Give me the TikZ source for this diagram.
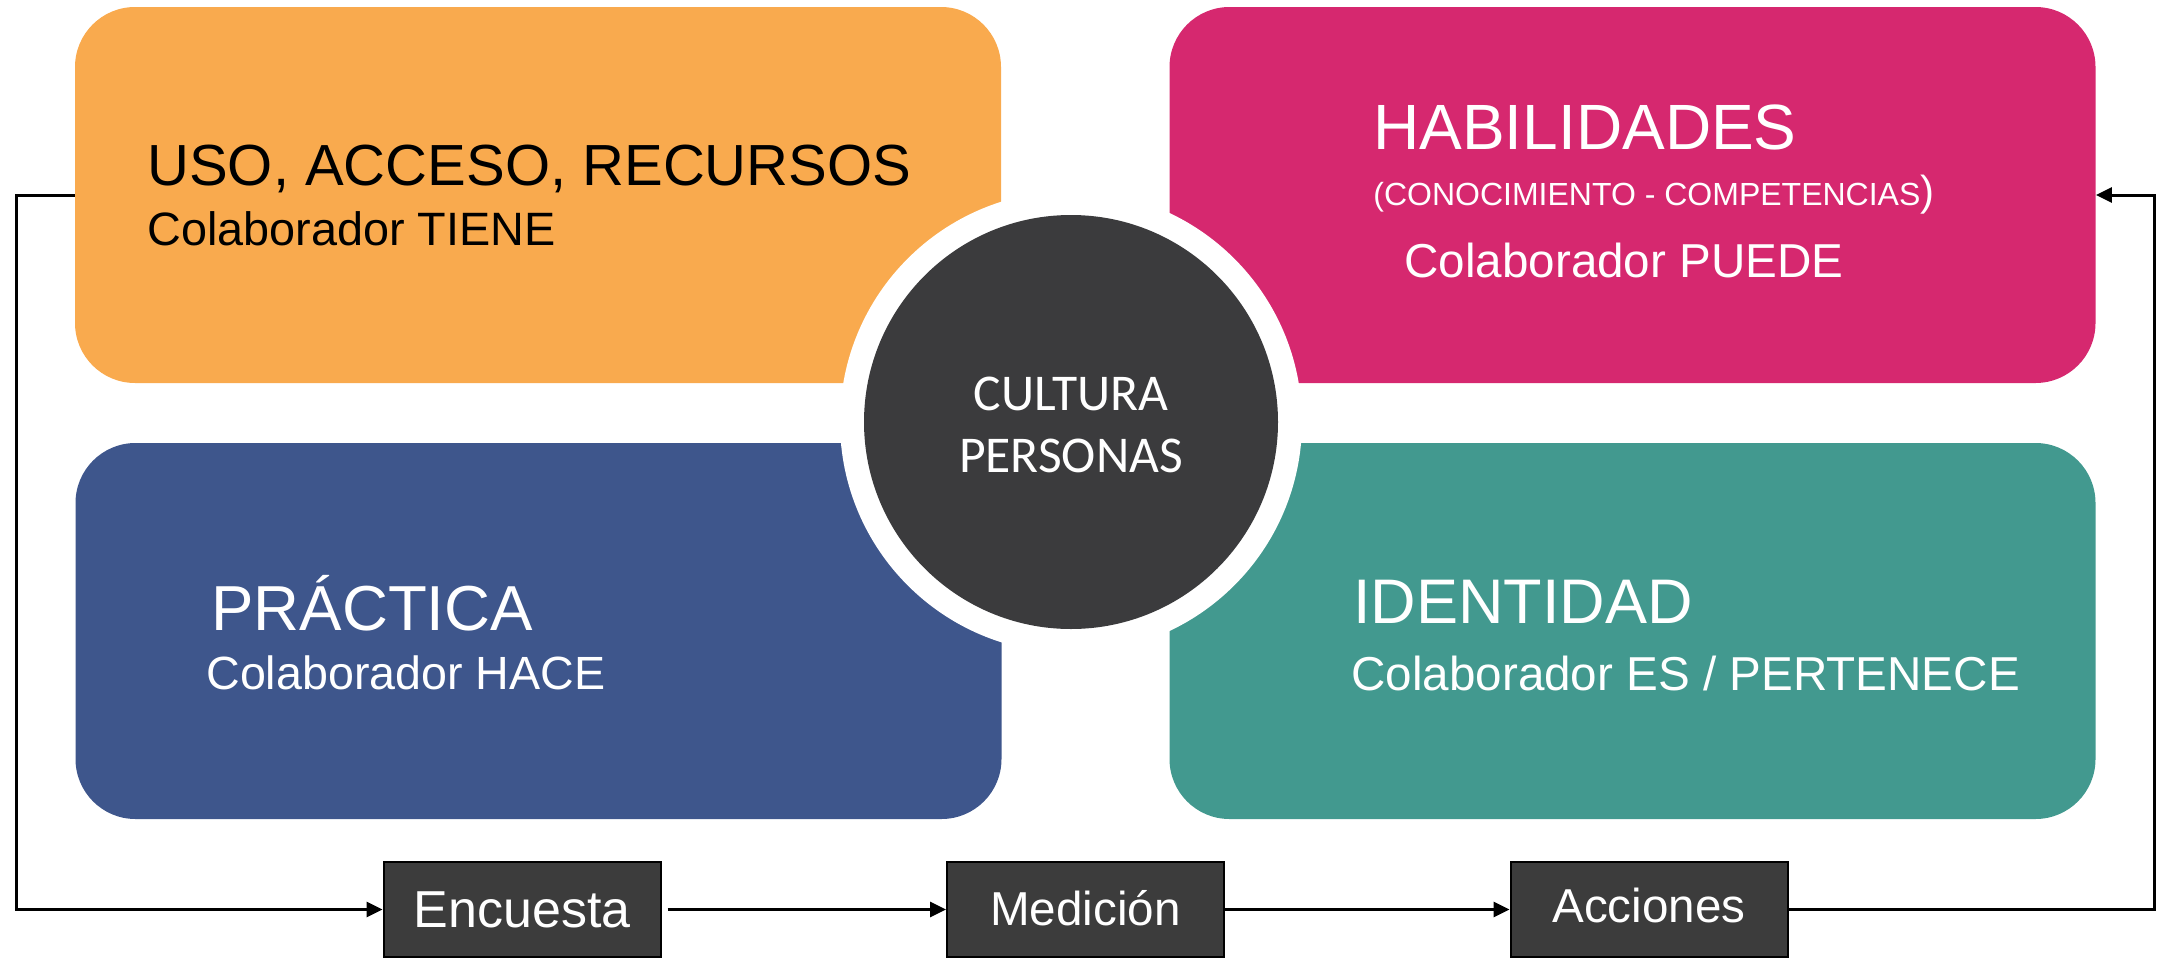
\documentclass[tikz,border=0pt]{standalone}
\usepackage{fontspec}
\setmainfont{Liberation Sans}
\newfontfamily\calfont{Carlito}
\usetikzlibrary{arrows.meta}
\definecolor{cOrange}{HTML}{F9AA4E}
\definecolor{cPink}{HTML}{D6286F}
\definecolor{cBlue}{HTML}{3E568C}
\definecolor{cTeal}{HTML}{42998F}
\definecolor{cDark}{HTML}{3B3B3D}
\definecolor{cBox}{HTML}{3C3C3C}
\begin{document}
\begin{tikzpicture}[x=0.5pt,y=-0.5pt,
  quad/.style={rectangle, rounded corners=30pt, minimum width=463pt, minimum height=188pt, inner sep=0pt},
  txt/.style={anchor=base west, inner sep=0pt},
  bigtxt/.style={txt, font=\fontsize{31.5}{36}\selectfont},
  subtxt/.style={txt, font=\fontsize{23.8}{28}\selectfont},
  stepbox/.style={rectangle, draw=black, line width=1pt, fill=cBox, text=white,
    minimum width=138.5pt, minimum height=47.5pt, inner sep=0pt, text depth=0pt},
  conn/.style={line width=1.5pt, -{Triangle[length=8pt,width=7.5pt]}},
]
\useasboundingbox (0,0) rectangle (2164,959);

% quadrants
\node[quad, fill=cOrange] (uso) at (538,195) {};
\node[quad, fill=cPink] (hab) at (1632.5,195) {};
\node[quad, fill=cBlue] (pra) at (538.5,631) {};
\node[quad, fill=cTeal] (ide) at (1632.5,631) {};

% centre circle
\node[circle, fill=white, minimum size=231pt, inner sep=0pt] (ring) at (1071,422) {};
\node[circle, fill=cDark, minimum size=207pt, inner sep=0pt] (core) at (1071,422) {};
\node[anchor=base, inner sep=0pt, text=white, font=\calfont\fontsize{25.8}{30}\selectfont] (cul) at (1071,410) {CULTURA};
\node[anchor=base, inner sep=0pt, text=white, font=\calfont\fontsize{25.8}{30}\selectfont] (per) at (1071,472) {PERSONAS};

% texts
\node[txt, text=black, font=\fontsize{29}{34}\selectfont] (t1) at (147,185) {USO, ACCESO, RECURSOS};
\node[subtxt, text=black, font=\fontsize{23.4}{28}\selectfont] (t2) at (147,245) {Colaborador TIENE};

\node[txt, text=white, font=\fontsize{32}{36}\selectfont] (t3) at (1373,149) {HABILIDADES};
\node[txt, text=white, font=\fontsize{16}{20}\selectfont] (t4) at (1373,205) {(CONOCIMIENTO - COMPETENCIAS{\fontsize{21}{24}\selectfont )}};
\node[subtxt, text=white] (t5) at (1404,277) {Colaborador PUEDE};

\node[txt, text=white, font=\fontsize{31.8}{36}\selectfont] (t6) at (211,630) {PRÁCTICA};
\node[subtxt, text=white, font=\fontsize{23.3}{28}\selectfont] (t7) at (206,689) {Colaborador HACE};

\node[bigtxt, text=white] (t8) at (1353,623) {IDENTIDAD};
\node[subtxt, text=white] (t9) at (1351,690) {Colaborador ES / PERTENECE};

% process boxes
\node[stepbox, text height=17.5pt, font=\fontsize{26}{30}\selectfont] (enc) at (522,909.5) {Encuesta};
\node[stepbox, text height=15.5pt, font=\fontsize{23.8}{28}\selectfont] (med) at (1085.5,909.5) {Medición};
\node[stepbox, text height=12.5pt, font=\fontsize{23.8}{28}\selectfont] (acc) at (1649,909.5) {Acciones};

% connectors
\coordinate (lc1) at (16,195);
\coordinate (lc2) at (16,909.5);
\coordinate (rc1) at (2154,909.5);
\coordinate (rc2) at (2154,195);
\draw[conn] (uso.west) -- (lc1) -- (lc2) -- (enc.west);
\draw[conn] ([xshift=3pt]enc.east) -- (med.west);
\draw[conn] (med.east) -- (acc.west);
\draw[conn] (acc.east) -- (rc1) -- (rc2) -- (hab.east);
\end{tikzpicture}
\end{document}
